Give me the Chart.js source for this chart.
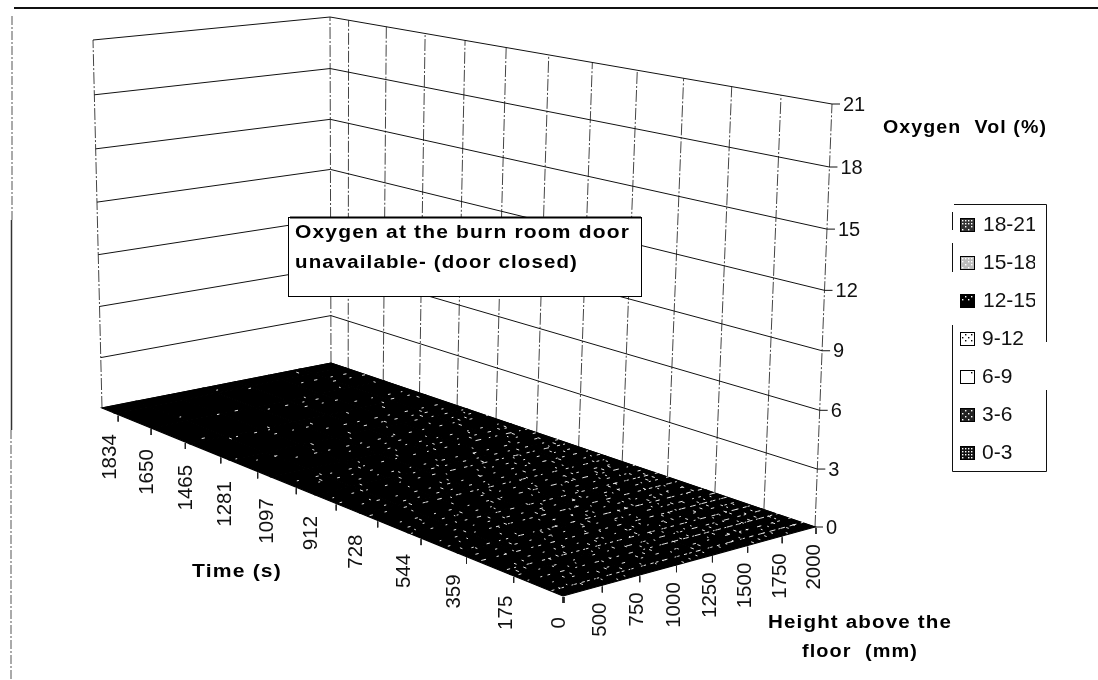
<!DOCTYPE html>
<html><head><meta charset="utf-8">
<style>html,body{margin:0;padding:0;background:#fff;overflow:hidden}canvas{display:block}</style>
<script src="https://cdn.jsdelivr.net/npm/chart.js@4"></script>
</head><body><canvas id="c" width="1098" height="680"></canvas>
<script>
// ---- data ----
const timeLabels = [0,175,359,544,728,912,1097,1281,1465,1650,1834];
const surfaceTimes = [0,175,359,544,728,912,1097,1281,1465,1650,1834,1900];
const timeGridSeconds = [0,165,330,496,661,826,991,1157,1322,1487,1652,1817];
const heightLabels = [0,500,750,1000,1250,1500,1750,2000];
const oxygenTicks = [0,3,6,9,12,15,18,21];
const oxygenAtHeight0 = [0,0,0,0,0,0,0,0,0,0,0,0];
const oxygenAtHeight500 = [0,0,0,0,0,0,0,0,0,0,0,0];
const oxygenAtHeight750 = [0,0,0,0,0,0,0,0,0,0,0,0];
const oxygenAtHeight1000 = [0,0,0,0,0,0,0,0,0,0,0,0];
const oxygenAtHeight1250 = [0,0,0,0,0,0,0,0,0,0,0,0];
const oxygenAtHeight1500 = [0,0,0,0,0,0,0,0,0,0,0,0];
const oxygenAtHeight1750 = [0,0,0,0,0,0,0,0,0,0,0,0];
const oxygenAtHeight2000 = [0,0,0,0,0,0,0,0,0,0,0,0];
const oxygenSurface = [oxygenAtHeight0,oxygenAtHeight500,oxygenAtHeight750,oxygenAtHeight1000,oxygenAtHeight1250,oxygenAtHeight1500,oxygenAtHeight1750,oxygenAtHeight2000];
const legendRanges = ['18-21','15-18','12-15','9-12','6-9','3-6','0-3'];

// ---- 3D view of the box: unit square -> screen ----
function quad(p0,p1,p2,p3){
  const dx1=p1[0]-p2[0],dx2=p3[0]-p2[0],sx=p0[0]-p1[0]+p2[0]-p3[0];
  const dy1=p1[1]-p2[1],dy2=p3[1]-p2[1],sy=p0[1]-p1[1]+p2[1]-p3[1];
  const den=dx1*dy2-dx2*dy1,g=(sx*dy2-sy*dx2)/den,h=(dx1*sy-dy1*sx)/den;
  const a=p1[0]-p0[0]+g*p1[0],b=p3[0]-p0[0]+h*p3[0],d=p1[1]-p0[1]+g*p1[1],e=p3[1]-p0[1]+h*p3[1];
  return (s,t)=>{const w=g*s+h*t+1;return [(a*s+b*t+p0[0])/w,(d*s+e*t+p0[1])/w];};
}
const floorAt = quad([563,596],[102,408],[331,363],[815,527]);
const roofAt  = quad([584,138],[93,40],[330,17],[832,104]);
const T_MAX = 1900, Z_MAX = 21;
function project(time,hIndex,z){
  const u=time/T_MAX, v=hIndex/(heightLabels.length-1);
  const a=floorAt(u,v), b=roofAt(u,v), f=z/(z+1.05*(Z_MAX-z));
  return {x:a[0]+(b[0]-a[0])*f, y:a[1]+(b[1]-a[1])*f};
}
const lastH = heightLabels.length-1;
const ds = [];
function line(data,o){ds.push(Object.assign({data,showLine:true,pointRadius:0,borderColor:'#000',borderWidth:1,fill:false,tension:0},o));}

surfaceTimes.slice(0,-1).forEach((t,i)=>{
  for(let h=0;h<lastH;h++){
    const t2=surfaceTimes[i+1];
    line([project(t,h,oxygenSurface[h][i]),project(t2,h,oxygenSurface[h][i+1]),
          project(t2,h+1,oxygenSurface[h+1][i+1]),project(t,h+1,oxygenSurface[h+1][i]),
          project(t,h,oxygenSurface[h][i])],
      {backgroundColor:'#000',fill:'shape',borderWidth:1.2,label:'0-3'});
  }
});
timeGridSeconds.forEach(t=>{const p=project(t,0,0);line([{x:p.x,y:p.y+1},{x:p.x,y:p.y+7}],{borderColor:'#222'});});
heightLabels.forEach((_,h)=>{const p=project(0,h,0);line([{x:p.x+1,y:p.y+1},{x:p.x+1,y:p.y+7}],{borderColor:'#222'});});
oxygenTicks.forEach(z=>{
  const e=project(0,lastH,z);
  line([project(T_MAX,0,z),project(T_MAX,lastH,z),e,{x:e.x+8,y:e.y}],{borderColor:'#111',borderWidth:1});
});
const wallDash={borderDash:[12,2,2,2],borderColor:'#444',borderWidth:1};
timeGridSeconds.forEach(t=>line([project(t,lastH,0),project(t,lastH,Z_MAX)],wallDash));
line([project(T_MAX,lastH,0),project(T_MAX,lastH,Z_MAX)],wallDash);
line([project(T_MAX,0,0),project(T_MAX,0,Z_MAX)],wallDash);

const FACE='"Liberation Sans", Arial, sans-serif', INK='#111';
const BOLD='bold 18px '+FACE;
function fitText(ctx,s,x,y,w){
  ctx.save();
  ctx.font=BOLD;ctx.letterSpacing='1px';ctx.textAlign='left';ctx.textBaseline='middle';ctx.fillStyle='#000';
  const m=ctx.measureText(s).width;
  ctx.translate(x,y);ctx.scale(w/m,1);
  ctx.fillText(s,0,0);
  ctx.restore();
}
function vText(ctx,s,x,y){
  ctx.save();ctx.translate(x,y);ctx.rotate(-Math.PI/2);ctx.font='20.5px '+FACE;ctx.textAlign='right';ctx.textBaseline='middle';ctx.fillStyle=INK;ctx.fillText(s,0,0);ctx.restore();
}
const px=(c,p)=>[c.scales.x.getPixelForValue(p.x),c.scales.y.getPixelForValue(p.y)];

const decor={id:'decor',
 beforeDatasetsDraw(c){
  const k=c.ctx;k.save();
  k.strokeStyle='#111';k.lineWidth=2;k.beginPath();k.moveTo(14,8);k.lineTo(1098,8);k.stroke();
  k.lineWidth=1;k.strokeStyle='#555';k.setLineDash([9,2,2,2]);k.beginPath();k.moveTo(12,16);k.lineTo(12,220);k.moveTo(11,430);k.lineTo(11,680);k.stroke();
  k.setLineDash([]);k.strokeStyle='#333';k.lineWidth=1.5;k.beginPath();k.moveTo(11.5,220);k.lineTo(11.5,430);k.stroke();
  k.restore();
 },
 afterDatasetsDraw(c){
  const k=c.ctx;k.save();
  k.strokeStyle='rgba(255,255,255,0.9)';k.lineWidth=1;
  const frac=x=>x-Math.floor(x);
  const dash=(a,b,seed)=>{
    const d=frac(seed*0.6180339);
    const [x1,y1]=px(c,a),[x2,y2]=px(c,b);
    const L=Math.hypot(x2-x1,y2-y1)||1;
    const len=1.5+frac(seed*0.37)*2;
    const sx=x1+(x2-x1)*d,sy=y1+(y2-y1)*d;
    k.beginPath();k.moveTo(sx,sy);k.lineTo(sx+(x2-x1)/L*len,sy+(y2-y1)/L*len);k.stroke();
  };
  let seed=1;
  const rows=46,cols=60;
  for(let i=1;i<rows;i++){
    const t=T_MAX*i/rows;
    const u=i/rows;
    for(let j=0;j<cols;j++){
      const h=lastH*j/cols,v=j/cols;seed++;
      const dens=Math.pow(Math.max(0,(1-u)*0.78+v*0.3),2.4)*(i%2?1:0.45)+0.012;
      if(frac(seed*0.7548776)<dens) dash(project(t,h,0),project(t,h+lastH/cols,0),seed);
    }
  }
  for(let j=1;j<28;j++){
    const h=lastH*j/28,v=j/28;
    for(let i=0;i<70;i++){
      const u=i/70;seed++;
      const dens=Math.pow(Math.max(0,(1-u)*0.78+v*0.3),2.6)*0.55;
      if(frac(seed*0.5698403)<dens) dash(project(T_MAX*u,h,0),project(T_MAX*(u+1/70),h,0),seed);
    }
  }
  k.font='20px '+FACE;k.textAlign='left';k.textBaseline='middle';k.fillStyle=INK;
  oxygenTicks.forEach(z=>{const [x,y]=px(c,project(0,lastH,z));k.fillText(String(z),x+11,y+1);});
  timeLabels.forEach(t=>{const [x,y]=px(c,project(t,0,0));vText(k,String(t),x-4,y+21);});
  heightLabels.forEach((h,i)=>{if(i===0)return;const [x,y]=px(c,project(0,i,0));vText(k,String(h),x-1,y+17);});
  fitText(k,'Oxygen  Vol (%)',883,128,164);
  fitText(k,'Time (s)',192,572,90);
  fitText(k,'Height above the',768,623,184);
  fitText(k,'floor  (mm)',802,652,116);
  k.fillStyle='#fff';k.fillRect(288,217,353,79);
  k.strokeStyle='#000';k.lineWidth=1;k.strokeRect(288.5,217.5,353,79);
  k.lineWidth=2;k.beginPath();k.moveTo(290,217.5);k.lineTo(641,217.5);k.stroke();
  fitText(k,'Oxygen at the burn room door',295,233,335);
  fitText(k,'unavailable- (door closed)',295,263,283);
  k.fillStyle='#fff';k.fillRect(952,204,94,267);
  k.strokeStyle='#111';k.lineWidth=1;
  k.beginPath();k.moveTo(954,204.5);k.lineTo(1046.5,204.5);k.lineTo(1046.5,342);
  k.moveTo(1046.5,390);k.lineTo(1046.5,471.5);k.lineTo(952.5,471.5);k.lineTo(952.5,325);
  k.moveTo(952.5,272);k.lineTo(952.5,243);k.moveTo(952.5,230);k.lineTo(952.5,212);k.stroke();
  const sw=[['#333',0.75],['#bbb',0.7],['#000',0.25],['#fff',-0.35],['#fff',-0.05],['#222',0.5],['#111',0.9]];
  legendRanges.forEach((r,i)=>{
    const yc=225+i*38,[base,d]=sw[i];
    k.fillStyle=base;k.fillRect(960,yc-7,15,14);
    k.strokeStyle='#000';k.lineWidth=1;k.strokeRect(960.5,yc-6.5,14,13);
    k.fillStyle=d<0?'#000':'#fff';
    const n=Math.abs(d);
    for(let a=0;a<4;a++)for(let b=0;b<4;b++){ if(frac((a*4+b+1)*0.618)<n) k.fillRect(962+a*3,yc-5+b*3,1.4,1.4);}
    k.save();k.beginPath();k.rect(955,yc-16,80,32);k.clip();
    k.font='21px '+FACE;k.fillStyle=INK;k.textAlign='left';k.textBaseline='middle';k.fillText(r,i<3?983:982,yc);
    k.restore();
  });
  k.restore();
 }};

new Chart(document.getElementById('c'),{
  type:'scatter',
  data:{datasets:ds},
  plugins:[decor],
  options:{
    responsive:false,animation:false,devicePixelRatio:1,
    layout:{padding:0},
    plugins:{legend:{display:false},tooltip:{enabled:false},title:{display:false},filler:{drawTime:'beforeDatasetDraw'}},
    scales:{
      x:{type:'linear',min:0,max:1098,display:false},
      y:{type:'linear',min:0,max:680,reverse:true,display:false}
    }
  }
});
</script></body></html>
